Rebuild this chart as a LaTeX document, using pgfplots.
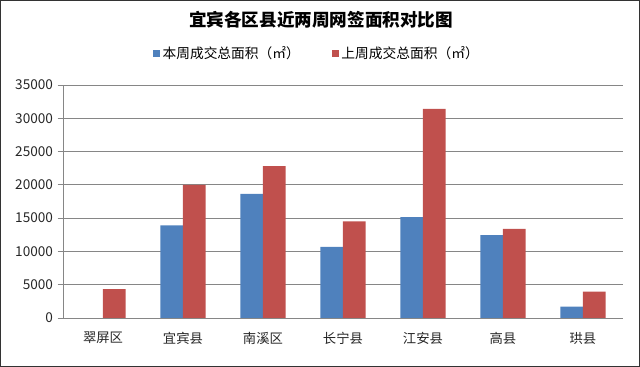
\documentclass[border=0pt]{standalone}
\usepackage{fontspec}
\setmainfont{Noto Sans CJK SC}
\usepackage{pgfplots}
\pgfplotsset{compat=1.18}
\definecolor{cblue}{HTML}{4F81BD}
\definecolor{cred}{HTML}{C0504D}
\definecolor{cgrid}{HTML}{868686}
\begin{document}
\begin{tikzpicture}
\useasboundingbox (0,0) rectangle (480pt,275.25pt);
\draw[black!80, line width=0.8pt] (0.4pt,0.4pt) rectangle (479.6pt,274.85pt);
\begin{axis}[
  at={(47.25pt,36.75pt)}, anchor=south west,
  scale only axis, width=420pt, height=174.75pt,
  ybar=0pt, bar width=16.9pt,
  xmin=-0.5, xmax=6.5, ymin=0, ymax=35000,
  ytick={0,5000,...,35000},
  scaled y ticks=false,
  yticklabel style={font=\fontsize{10.2pt}{12pt}\selectfont, text=black!85},
  /pgf/number format/fixed, /pgf/number format/1000 sep={}, /pgf/number format/assume math mode=true,
  ymajorgrids, grid style={cgrid, line width=0.6pt},
  axis x line*=bottom, axis y line*=left,
  axis line style={cgrid, line width=0.6pt, -},
  xtick={0,...,6},
  xticklabels={翠屏区,宜宾县,南溪区,长宁县,江安县,高县,珙县},
  major x tick style={draw=none},
  extra x ticks={-0.5,0.5,1.5,2.5,3.5,4.5,5.5,6.5},
  extra x tick labels={},
  extra x tick style={tick style={cgrid, line width=0.6pt}, major tick length=4pt, tick align=outside, grid=none},
  ytick style={cgrid, line width=0.6pt},
  tick align=outside, major tick length=4pt,
  xticklabel style={font=\fontsize{10pt}{12pt}\selectfont, text=black!85, yshift=-3pt},
  legend style={at={(0.454,1.135)}, anchor=center, draw=none, fill=none,
    legend columns=2, font=\fontsize{10.3pt}{12pt}\selectfont,
    /tikz/every even column/.append style={column sep=22pt}},
  legend image code/.code={\fill[#1] (0pt,-2.6pt) rectangle (5.2pt,2.6pt);},
  title={\bfseries 宜宾各区县近两周网签面积对比图},
  title style={at={(0.461,1.245)}, anchor=center, yshift=0pt, font=\fontsize{13.2pt}{15pt}\selectfont\bfseries},
]
\addplot[fill=cblue, draw=none] coordinates {(0,nan) (1,13900) (2,18650) (3,10700) (4,15150) (5,12450) (6,1700)};
\addplot[fill=cred, draw=none] coordinates {(0,4350) (1,20000) (2,22800) (3,14500) (4,31400) (5,13400) (6,3950)};
\legend{本周成交总面积（㎡）,上周成交总面积（㎡）}
\end{axis}
\end{tikzpicture}
\end{document}
